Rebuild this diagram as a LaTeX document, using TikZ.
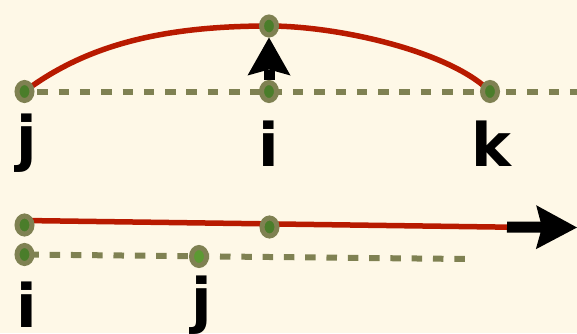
\documentclass[tikz,border=0pt]{standalone}
\usepackage{fontspec}
\setmainfont{DejaVu Sans}
\usetikzlibrary{arrows.meta,shapes.geometric}
\definecolor{paper}{HTML}{FEF8E7}
\definecolor{olivering}{HTML}{7F8152}
\definecolor{leaf}{HTML}{4A7D2A}
\definecolor{leaflight}{HTML}{5C9A32}
\definecolor{rust}{HTML}{B81A00}
\pgfdeclarelayer{bg}
\pgfdeclarelayer{wires}
\pgfsetlayers{bg,wires,main}
\begin{document}
\begin{tikzpicture}[x=1pt,y=-1pt,
  vertex/.style={ellipse, draw=olivering, line width=5pt, fill=leaf,
    minimum width=15pt, minimum height=18pt, inner sep=0pt},
  lbl/.style={anchor=base, inner sep=0pt, text=black,
    font=\fontsize{60}{60}\selectfont\bfseries},
  dashline/.style={draw=olivering, line width=6pt, dash pattern=on 10.5pt off 10.8pt},
  redline/.style={draw=rust, line width=5.5pt},
  heavyarrow/.style={draw=black, line width=11pt}]

\begin{pgfonlayer}{bg}
  \fill[paper] (0,0) rectangle (577,333);
\end{pgfonlayer}
\useasboundingbox (0,0) rectangle (577,333);

% upper row
\node[vertex] (tj)  at (24.5,91.5) {};
\node[vertex] (ti)  at (269,91.5) {};
\node[vertex] (tk)  at (490,91.5) {};
\node[vertex] (top) at (269,26) {};
\coordinate (tdashend) at (577,91.5);

\node[lbl] (lj) at (27,159) {j};
\node[lbl] (li) at (269,166) {i};
\node[lbl] (lk) at (491,166) {k};

% lower row
\node[vertex] (ba) at (24.5,225) {};
\node[vertex] (bm) at (269.5,227) {};
\node[vertex] (bb) at (24.5,254.5) {};
\node[vertex, fill=leaflight] (bj) at (199,256.5) {};
\coordinate (bdashend) at (467,259);
\coordinate (ashaft) at (507,227);
\coordinate (atip) at (577,227.5);

\node[lbl] (lbi) at (26.5,327) {i};
\node[lbl] (lbj) at (202,321) {j};

\begin{pgfonlayer}{wires}
  \draw[dashline, dash phase=8.5pt] (tj.center) -- (tdashend);
  \draw[redline] (tj.center) .. controls +(60,-45) and +(-110,0) .. (top.center)
                 .. controls +(70,0) and +(-40,-40) .. (tk.center);
  \draw[heavyarrow, -{Stealth[length=38pt,width=43pt,inset=6pt,line width=0pt]}] (ti) -- (top);

  \draw[dashline, dash phase=17.5pt] (bb.center) -- (bdashend);
  \draw[redline] ([yshift=4.5pt]ba.center) -- ([xshift=-45pt]atip);
  \draw[heavyarrow, -{Stealth[length=41pt,width=44pt,inset=6pt,line width=0pt]}] (ashaft) -- (atip);
\end{pgfonlayer}
\end{tikzpicture}
\end{document}
